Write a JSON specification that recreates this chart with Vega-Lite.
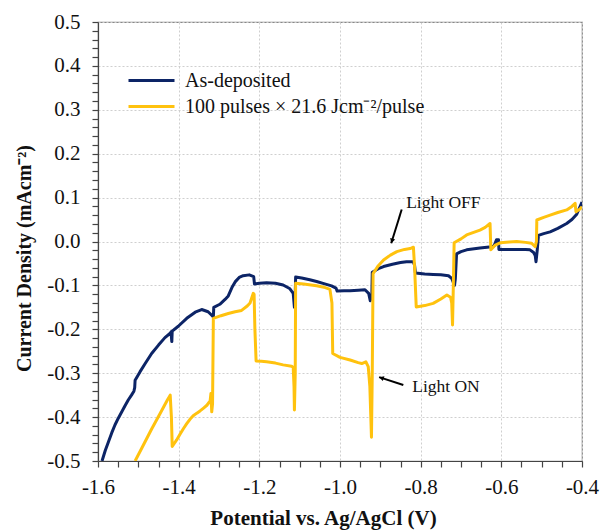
{
  "$schema": "https://vega.github.io/schema/vega-lite/v6.json",
  "width": 484,
  "height": 439,
  "autosize": {"type": "none"},
  "padding": {"left": 98, "top": 22, "right": 18, "bottom": 71},
  "background": "white",
  "config": {
    "font": "Liberation Serif",
    "view": {"stroke": "#888", "strokeWidth": 1.2},
    "axis": {
      "domainColor": "#444",
      "domainWidth": 1.2,
      "tickColor": "#444",
      "tickSize": 6,
      "tickWidth": 1.2,
      "gridColor": "#cfcfcf",
      "gridDash": [2, 2],
      "gridWidth": 1,
      "labelFont": "Liberation Serif",
      "labelFontSize": 21,
      "labelColor": "#111",
      "titleFont": "Liberation Serif",
      "titleFontWeight": "bold",
      "titleColor": "#111"
    }
  },
  "datasets": {
    "curves": [
      {"series": "As-deposited", "v": -1.590, "j": -0.500},
      {"series": "As-deposited", "v": -1.582, "j": -0.476},
      {"series": "As-deposited", "v": -1.574, "j": -0.456},
      {"series": "As-deposited", "v": -1.566, "j": -0.436},
      {"series": "As-deposited", "v": -1.558, "j": -0.418},
      {"series": "As-deposited", "v": -1.550, "j": -0.403},
      {"series": "As-deposited", "v": -1.541, "j": -0.388},
      {"series": "As-deposited", "v": -1.533, "j": -0.374},
      {"series": "As-deposited", "v": -1.525, "j": -0.361},
      {"series": "As-deposited", "v": -1.517, "j": -0.350},
      {"series": "As-deposited", "v": -1.511, "j": -0.341},
      {"series": "As-deposited", "v": -1.509, "j": -0.333},
      {"series": "As-deposited", "v": -1.508, "j": -0.316},
      {"series": "As-deposited", "v": -1.496, "j": -0.297},
      {"series": "As-deposited", "v": -1.483, "j": -0.278},
      {"series": "As-deposited", "v": -1.467, "j": -0.255},
      {"series": "As-deposited", "v": -1.450, "j": -0.236},
      {"series": "As-deposited", "v": -1.434, "j": -0.219},
      {"series": "As-deposited", "v": -1.421, "j": -0.209},
      {"series": "As-deposited", "v": -1.419, "j": -0.206},
      {"series": "As-deposited", "v": -1.417, "j": -0.228},
      {"series": "As-deposited", "v": -1.416, "j": -0.204},
      {"series": "As-deposited", "v": -1.401, "j": -0.193},
      {"series": "As-deposited", "v": -1.380, "j": -0.175},
      {"series": "As-deposited", "v": -1.359, "j": -0.161},
      {"series": "As-deposited", "v": -1.343, "j": -0.155},
      {"series": "As-deposited", "v": -1.327, "j": -0.160},
      {"series": "As-deposited", "v": -1.318, "j": -0.168},
      {"series": "As-deposited", "v": -1.314, "j": -0.172},
      {"series": "As-deposited", "v": -1.313, "j": -0.150},
      {"series": "As-deposited", "v": -1.298, "j": -0.143},
      {"series": "As-deposited", "v": -1.285, "j": -0.132},
      {"series": "As-deposited", "v": -1.277, "j": -0.124},
      {"series": "As-deposited", "v": -1.268, "j": -0.105},
      {"series": "As-deposited", "v": -1.260, "j": -0.092},
      {"series": "As-deposited", "v": -1.250, "j": -0.082},
      {"series": "As-deposited", "v": -1.240, "j": -0.078},
      {"series": "As-deposited", "v": -1.225, "j": -0.076},
      {"series": "As-deposited", "v": -1.214, "j": -0.080},
      {"series": "As-deposited", "v": -1.212, "j": -0.097},
      {"series": "As-deposited", "v": -1.200, "j": -0.095},
      {"series": "As-deposited", "v": -1.182, "j": -0.094},
      {"series": "As-deposited", "v": -1.160, "j": -0.095},
      {"series": "As-deposited", "v": -1.141, "j": -0.099},
      {"series": "As-deposited", "v": -1.125, "j": -0.107},
      {"series": "As-deposited", "v": -1.116, "j": -0.118},
      {"series": "As-deposited", "v": -1.113, "j": -0.150},
      {"series": "As-deposited", "v": -1.111, "j": -0.120},
      {"series": "As-deposited", "v": -1.110, "j": -0.081},
      {"series": "As-deposited", "v": -1.095, "j": -0.083},
      {"series": "As-deposited", "v": -1.075, "j": -0.087},
      {"series": "As-deposited", "v": -1.058, "j": -0.091},
      {"series": "As-deposited", "v": -1.040, "j": -0.096},
      {"series": "As-deposited", "v": -1.021, "j": -0.101},
      {"series": "As-deposited", "v": -1.010, "j": -0.106},
      {"series": "As-deposited", "v": -1.007, "j": -0.113},
      {"series": "As-deposited", "v": -0.990, "j": -0.112},
      {"series": "As-deposited", "v": -0.975, "j": -0.112},
      {"series": "As-deposited", "v": -0.955, "j": -0.111},
      {"series": "As-deposited", "v": -0.938, "j": -0.110},
      {"series": "As-deposited", "v": -0.929, "j": -0.118},
      {"series": "As-deposited", "v": -0.925, "j": -0.135},
      {"series": "As-deposited", "v": -0.921, "j": -0.120},
      {"series": "As-deposited", "v": -0.920, "j": -0.070},
      {"series": "As-deposited", "v": -0.905, "j": -0.062},
      {"series": "As-deposited", "v": -0.892, "j": -0.057},
      {"series": "As-deposited", "v": -0.870, "j": -0.052},
      {"series": "As-deposited", "v": -0.850, "j": -0.048},
      {"series": "As-deposited", "v": -0.835, "j": -0.046},
      {"series": "As-deposited", "v": -0.818, "j": -0.046},
      {"series": "As-deposited", "v": -0.815, "j": -0.055},
      {"series": "As-deposited", "v": -0.813, "j": -0.072},
      {"series": "As-deposited", "v": -0.790, "j": -0.074},
      {"series": "As-deposited", "v": -0.769, "j": -0.075},
      {"series": "As-deposited", "v": -0.750, "j": -0.076},
      {"series": "As-deposited", "v": -0.731, "j": -0.078},
      {"series": "As-deposited", "v": -0.723, "j": -0.084},
      {"series": "As-deposited", "v": -0.716, "j": -0.100},
      {"series": "As-deposited", "v": -0.714, "j": -0.085},
      {"series": "As-deposited", "v": -0.711, "j": -0.028},
      {"series": "As-deposited", "v": -0.700, "j": -0.023},
      {"series": "As-deposited", "v": -0.686, "j": -0.019},
      {"series": "As-deposited", "v": -0.653, "j": -0.015},
      {"series": "As-deposited", "v": -0.624, "j": -0.012},
      {"series": "As-deposited", "v": -0.618, "j": -0.010},
      {"series": "As-deposited", "v": -0.612, "j": 0.004},
      {"series": "As-deposited", "v": -0.607, "j": 0.004},
      {"series": "As-deposited", "v": -0.606, "j": -0.018},
      {"series": "As-deposited", "v": -0.590, "j": -0.018},
      {"series": "As-deposited", "v": -0.562, "j": -0.018},
      {"series": "As-deposited", "v": -0.540, "j": -0.018},
      {"series": "As-deposited", "v": -0.529, "j": -0.019},
      {"series": "As-deposited", "v": -0.520, "j": -0.025},
      {"series": "As-deposited", "v": -0.516, "j": -0.032},
      {"series": "As-deposited", "v": -0.514, "j": -0.046},
      {"series": "As-deposited", "v": -0.511, "j": -0.020},
      {"series": "As-deposited", "v": -0.508, "j": 0.014},
      {"series": "As-deposited", "v": -0.495, "j": 0.018},
      {"series": "As-deposited", "v": -0.479, "j": 0.022},
      {"series": "As-deposited", "v": -0.460, "j": 0.030},
      {"series": "As-deposited", "v": -0.438, "j": 0.041},
      {"series": "As-deposited", "v": -0.425, "j": 0.050},
      {"series": "As-deposited", "v": -0.413, "j": 0.062},
      {"series": "As-deposited", "v": -0.400, "j": 0.090},

      {"series": "100 pulses × 21.6 Jcm⁻²/pulse", "v": -1.508, "j": -0.500},
      {"series": "100 pulses × 21.6 Jcm⁻²/pulse", "v": -1.490, "j": -0.468},
      {"series": "100 pulses × 21.6 Jcm⁻²/pulse", "v": -1.467, "j": -0.427},
      {"series": "100 pulses × 21.6 Jcm⁻²/pulse", "v": -1.445, "j": -0.390},
      {"series": "100 pulses × 21.6 Jcm⁻²/pulse", "v": -1.428, "j": -0.361},
      {"series": "100 pulses × 21.6 Jcm⁻²/pulse", "v": -1.421, "j": -0.350},
      {"series": "100 pulses × 21.6 Jcm⁻²/pulse", "v": -1.418, "j": -0.400},
      {"series": "100 pulses × 21.6 Jcm⁻²/pulse", "v": -1.416, "j": -0.467},
      {"series": "100 pulses × 21.6 Jcm⁻²/pulse", "v": -1.405, "j": -0.452},
      {"series": "100 pulses × 21.6 Jcm⁻²/pulse", "v": -1.396, "j": -0.438},
      {"series": "100 pulses × 21.6 Jcm⁻²/pulse", "v": -1.388, "j": -0.426},
      {"series": "100 pulses × 21.6 Jcm⁻²/pulse", "v": -1.380, "j": -0.415},
      {"series": "100 pulses × 21.6 Jcm⁻²/pulse", "v": -1.372, "j": -0.405},
      {"series": "100 pulses × 21.6 Jcm⁻²/pulse", "v": -1.364, "j": -0.397},
      {"series": "100 pulses × 21.6 Jcm⁻²/pulse", "v": -1.355, "j": -0.391},
      {"series": "100 pulses × 21.6 Jcm⁻²/pulse", "v": -1.347, "j": -0.386},
      {"series": "100 pulses × 21.6 Jcm⁻²/pulse", "v": -1.339, "j": -0.380},
      {"series": "100 pulses × 21.6 Jcm⁻²/pulse", "v": -1.330, "j": -0.373},
      {"series": "100 pulses × 21.6 Jcm⁻²/pulse", "v": -1.322, "j": -0.363},
      {"series": "100 pulses × 21.6 Jcm⁻²/pulse", "v": -1.320, "j": -0.346},
      {"series": "100 pulses × 21.6 Jcm⁻²/pulse", "v": -1.318, "j": -0.388},
      {"series": "100 pulses × 21.6 Jcm⁻²/pulse", "v": -1.316, "j": -0.370},
      {"series": "100 pulses × 21.6 Jcm⁻²/pulse", "v": -1.314, "j": -0.175},
      {"series": "100 pulses × 21.6 Jcm⁻²/pulse", "v": -1.295, "j": -0.169},
      {"series": "100 pulses × 21.6 Jcm⁻²/pulse", "v": -1.277, "j": -0.164},
      {"series": "100 pulses × 21.6 Jcm⁻²/pulse", "v": -1.260, "j": -0.160},
      {"series": "100 pulses × 21.6 Jcm⁻²/pulse", "v": -1.244, "j": -0.157},
      {"series": "100 pulses × 21.6 Jcm⁻²/pulse", "v": -1.230, "j": -0.147},
      {"series": "100 pulses × 21.6 Jcm⁻²/pulse", "v": -1.223, "j": -0.140},
      {"series": "100 pulses × 21.6 Jcm⁻²/pulse", "v": -1.215, "j": -0.118},
      {"series": "100 pulses × 21.6 Jcm⁻²/pulse", "v": -1.213, "j": -0.120},
      {"series": "100 pulses × 21.6 Jcm⁻²/pulse", "v": -1.211, "j": -0.200},
      {"series": "100 pulses × 21.6 Jcm⁻²/pulse", "v": -1.208, "j": -0.272},
      {"series": "100 pulses × 21.6 Jcm⁻²/pulse", "v": -1.195, "j": -0.273},
      {"series": "100 pulses × 21.6 Jcm⁻²/pulse", "v": -1.182, "j": -0.274},
      {"series": "100 pulses × 21.6 Jcm⁻²/pulse", "v": -1.160, "j": -0.277},
      {"series": "100 pulses × 21.6 Jcm⁻²/pulse", "v": -1.141, "j": -0.281},
      {"series": "100 pulses × 21.6 Jcm⁻²/pulse", "v": -1.120, "j": -0.284},
      {"series": "100 pulses × 21.6 Jcm⁻²/pulse", "v": -1.116, "j": -0.287},
      {"series": "100 pulses × 21.6 Jcm⁻²/pulse", "v": -1.114, "j": -0.330},
      {"series": "100 pulses × 21.6 Jcm⁻²/pulse", "v": -1.113, "j": -0.384},
      {"series": "100 pulses × 21.6 Jcm⁻²/pulse", "v": -1.111, "j": -0.300},
      {"series": "100 pulses × 21.6 Jcm⁻²/pulse", "v": -1.110, "j": -0.095},
      {"series": "100 pulses × 21.6 Jcm⁻²/pulse", "v": -1.090, "j": -0.097},
      {"series": "100 pulses × 21.6 Jcm⁻²/pulse", "v": -1.058, "j": -0.101},
      {"series": "100 pulses × 21.6 Jcm⁻²/pulse", "v": -1.040, "j": -0.104},
      {"series": "100 pulses × 21.6 Jcm⁻²/pulse", "v": -1.025, "j": -0.109},
      {"series": "100 pulses × 21.6 Jcm⁻²/pulse", "v": -1.020, "j": -0.140},
      {"series": "100 pulses × 21.6 Jcm⁻²/pulse", "v": -1.018, "j": -0.255},
      {"series": "100 pulses × 21.6 Jcm⁻²/pulse", "v": -1.000, "j": -0.264},
      {"series": "100 pulses × 21.6 Jcm⁻²/pulse", "v": -0.975, "j": -0.270},
      {"series": "100 pulses × 21.6 Jcm⁻²/pulse", "v": -0.955, "j": -0.276},
      {"series": "100 pulses × 21.6 Jcm⁻²/pulse", "v": -0.946, "j": -0.278},
      {"series": "100 pulses × 21.6 Jcm⁻²/pulse", "v": -0.936, "j": -0.274},
      {"series": "100 pulses × 21.6 Jcm⁻²/pulse", "v": -0.930, "j": -0.285},
      {"series": "100 pulses × 21.6 Jcm⁻²/pulse", "v": -0.926, "j": -0.330},
      {"series": "100 pulses × 21.6 Jcm⁻²/pulse", "v": -0.922, "j": -0.446},
      {"series": "100 pulses × 21.6 Jcm⁻²/pulse", "v": -0.920, "j": -0.300},
      {"series": "100 pulses × 21.6 Jcm⁻²/pulse", "v": -0.918, "j": -0.073},
      {"series": "100 pulses × 21.6 Jcm⁻²/pulse", "v": -0.905, "j": -0.055},
      {"series": "100 pulses × 21.6 Jcm⁻²/pulse", "v": -0.892, "j": -0.042},
      {"series": "100 pulses × 21.6 Jcm⁻²/pulse", "v": -0.875, "j": -0.031},
      {"series": "100 pulses × 21.6 Jcm⁻²/pulse", "v": -0.859, "j": -0.023},
      {"series": "100 pulses × 21.6 Jcm⁻²/pulse", "v": -0.840, "j": -0.018},
      {"series": "100 pulses × 21.6 Jcm⁻²/pulse", "v": -0.826, "j": -0.016},
      {"series": "100 pulses × 21.6 Jcm⁻²/pulse", "v": -0.818, "j": -0.013},
      {"series": "100 pulses × 21.6 Jcm⁻²/pulse", "v": -0.815, "j": -0.060},
      {"series": "100 pulses × 21.6 Jcm⁻²/pulse", "v": -0.811, "j": -0.149},
      {"series": "100 pulses × 21.6 Jcm⁻²/pulse", "v": -0.790, "j": -0.146},
      {"series": "100 pulses × 21.6 Jcm⁻²/pulse", "v": -0.769, "j": -0.141},
      {"series": "100 pulses × 21.6 Jcm⁻²/pulse", "v": -0.750, "j": -0.131},
      {"series": "100 pulses × 21.6 Jcm⁻²/pulse", "v": -0.735, "j": -0.122},
      {"series": "100 pulses × 21.6 Jcm⁻²/pulse", "v": -0.726, "j": -0.127},
      {"series": "100 pulses × 21.6 Jcm⁻²/pulse", "v": -0.723, "j": -0.140},
      {"series": "100 pulses × 21.6 Jcm⁻²/pulse", "v": -0.721, "j": -0.190},
      {"series": "100 pulses × 21.6 Jcm⁻²/pulse", "v": -0.719, "j": -0.100},
      {"series": "100 pulses × 21.6 Jcm⁻²/pulse", "v": -0.717, "j": -0.003},
      {"series": "100 pulses × 21.6 Jcm⁻²/pulse", "v": -0.700, "j": 0.006},
      {"series": "100 pulses × 21.6 Jcm⁻²/pulse", "v": -0.686, "j": 0.015},
      {"series": "100 pulses × 21.6 Jcm⁻²/pulse", "v": -0.653, "j": 0.026},
      {"series": "100 pulses × 21.6 Jcm⁻²/pulse", "v": -0.640, "j": 0.032},
      {"series": "100 pulses × 21.6 Jcm⁻²/pulse", "v": -0.628, "j": 0.041},
      {"series": "100 pulses × 21.6 Jcm⁻²/pulse", "v": -0.626, "j": -0.019},
      {"series": "100 pulses × 21.6 Jcm⁻²/pulse", "v": -0.615, "j": -0.008},
      {"series": "100 pulses × 21.6 Jcm⁻²/pulse", "v": -0.603, "j": -0.003},
      {"series": "100 pulses × 21.6 Jcm⁻²/pulse", "v": -0.580, "j": -0.001},
      {"series": "100 pulses × 21.6 Jcm⁻²/pulse", "v": -0.562, "j": 0.000},
      {"series": "100 pulses × 21.6 Jcm⁻²/pulse", "v": -0.540, "j": -0.002},
      {"series": "100 pulses × 21.6 Jcm⁻²/pulse", "v": -0.525, "j": -0.004},
      {"series": "100 pulses × 21.6 Jcm⁻²/pulse", "v": -0.516, "j": -0.012},
      {"series": "100 pulses × 21.6 Jcm⁻²/pulse", "v": -0.513, "j": 0.000},
      {"series": "100 pulses × 21.6 Jcm⁻²/pulse", "v": -0.512, "j": 0.049},
      {"series": "100 pulses × 21.6 Jcm⁻²/pulse", "v": -0.495, "j": 0.055},
      {"series": "100 pulses × 21.6 Jcm⁻²/pulse", "v": -0.479, "j": 0.060},
      {"series": "100 pulses × 21.6 Jcm⁻²/pulse", "v": -0.460, "j": 0.066},
      {"series": "100 pulses × 21.6 Jcm⁻²/pulse", "v": -0.438, "j": 0.072},
      {"series": "100 pulses × 21.6 Jcm⁻²/pulse", "v": -0.425, "j": 0.080},
      {"series": "100 pulses × 21.6 Jcm⁻²/pulse", "v": -0.417, "j": 0.087},
      {"series": "100 pulses × 21.6 Jcm⁻²/pulse", "v": -0.415, "j": 0.068},
      {"series": "100 pulses × 21.6 Jcm⁻²/pulse", "v": -0.405, "j": 0.074},
      {"series": "100 pulses × 21.6 Jcm⁻²/pulse", "v": -0.400, "j": 0.079}
    ],
    "notes": [
      {"label": "Light OFF", "v": -0.836, "j": 0.088},
      {"label": "Light ON", "v": -0.821, "j": -0.331}
    ],
    "arrows": [
      {"v": -0.847, "j": 0.073, "v2": -0.873, "j2": -0.004, "ang": 18},
      {"v": -0.843, "j": -0.327, "v2": -0.903, "j2": -0.309, "ang": 108}
    ]
  },
  "layer": [
    {
      "data": {"name": "curves"},
      "mark": {"type": "line", "strokeWidth": 3, "clip": true, "strokeJoin": "round"},
      "encoding": {
        "x": {
          "field": "v",
          "type": "quantitative",
          "scale": {"domain": [-1.6, -0.4], "nice": false, "zero": false},
          "axis": {
            "title": "Potential vs. Ag/AgCl (V)",
            "titleFontSize": 21,
            "tickCount": 100,
            "values": [-1.6, -1.55, -1.5, -1.45, -1.4, -1.35, -1.3, -1.25, -1.2, -1.15, -1.1, -1.05, -1.0, -0.95, -0.9, -0.85, -0.8, -0.75, -0.7, -0.65, -0.6, -0.55, -0.5, -0.45, -0.4],
            "labelExpr": "abs(datum.value*5 - round(datum.value*5)) < 0.01 ? replace(format(datum.value, '.1f'), '\u2212', '-') : ''",
            "gridOpacity": {"condition": {"test": "abs(datum.value*5 - round(datum.value*5)) < 0.01", "value": 1}, "value": 0},
            "labelPadding": 9,
            "labelFlush": false,
            "labelOverlap": false,
            "titleX": 225,
            "titleY": 63,
            "titleAlign": "center",
            "titleBaseline": "alphabetic"
          }
        },
        "y": {
          "field": "j",
          "type": "quantitative",
          "scale": {"domain": [-0.5, 0.5], "nice": false, "zero": false},
          "axis": {
            "title": "Current Density (mAcm⁻²)",
            "titleFontSize": 20,
            "tickCount": 100,
            "values": [-0.5, -0.48, -0.46, -0.44, -0.42, -0.4, -0.38, -0.36, -0.34, -0.32, -0.3, -0.28, -0.26, -0.24, -0.22, -0.2, -0.18, -0.16, -0.14, -0.12, -0.1, -0.08, -0.06, -0.04, -0.02, 0, 0.02, 0.04, 0.06, 0.08, 0.1, 0.12, 0.14, 0.16, 0.18, 0.2, 0.22, 0.24, 0.26, 0.28, 0.3, 0.32, 0.34, 0.36, 0.38, 0.4, 0.42, 0.44, 0.46, 0.48, 0.5],
            "labelExpr": "abs(datum.value*10 - round(datum.value*10)) < 0.01 ? replace(format(datum.value, '.1f'), '\u2212', '-') : ''",
            "gridOpacity": {"condition": {"test": "abs(datum.value*10 - round(datum.value*10)) < 0.01", "value": 1}, "value": 0},
            "labelPadding": 12,
            "labelFlush": false,
            "labelOverlap": false,
            "titleAngle": 270,
            "titleX": -74,
            "titleY": 236,
            "titleAlign": "center",
            "titleBaseline": "middle"
          }
        },
        "color": {
          "field": "series",
          "type": "nominal",
          "scale": {
            "domain": ["As-deposited", "100 pulses × 21.6 Jcm⁻²/pulse"],
            "range": ["#0c2466", "#ffc20e"]
          },
          "legend": {
            "title": null,
            "orient": "none",
            "legendX": 42,
            "legendY": 47,
            "symbolType": "M -2.3 0 L 2.3 0",
            "symbolSize": 400,
            "symbolStrokeWidth": 3,
            "symbolFillColor": "transparent",
            "labelFont": "Liberation Serif",
            "labelFontSize": 20,
            "labelColor": "#111",
            "labelOffset": 22,
            "rowPadding": 4,
            "padding": 0,
            "labelLimit": 400
          }
        }
      }
    },
    {
      "data": {"name": "arrows"},
      "mark": {"type": "rule", "color": "#000", "strokeWidth": 2},
      "encoding": {
        "x": {"field": "v", "type": "quantitative"},
        "y": {"field": "j", "type": "quantitative"},
        "x2": {"field": "v2"},
        "y2": {"field": "j2"}
      }
    },
    {
      "data": {"name": "arrows"},
      "mark": {"type": "point", "shape": "M -0.55 -1 L 0 0 L 0.55 -1 Z", "filled": true, "color": "#000", "size": 90, "opacity": 1},
      "encoding": {
        "x": {"field": "v2", "type": "quantitative"},
        "y": {"field": "j2", "type": "quantitative"},
        "angle": {"field": "ang", "type": "quantitative", "scale": null}
      }
    },
    {
      "data": {"name": "notes"},
      "mark": {"type": "text", "align": "left", "baseline": "middle", "fontSize": 17.5, "font": "Liberation Serif", "color": "#111"},
      "encoding": {
        "x": {"field": "v", "type": "quantitative"},
        "y": {"field": "j", "type": "quantitative"},
        "text": {"field": "label"}
      }
    }
  ]
}
